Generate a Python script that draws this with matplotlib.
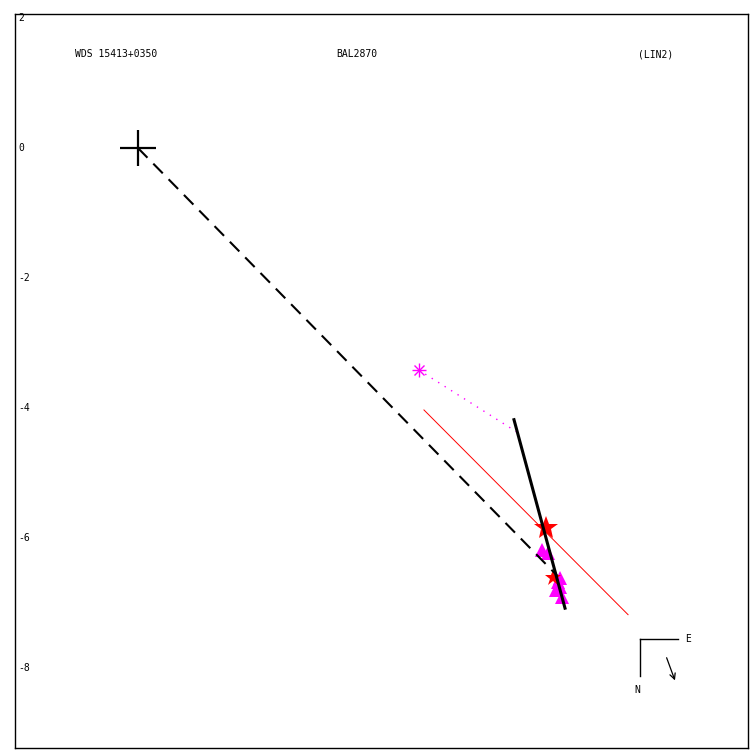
import matplotlib
matplotlib.use("Agg")
import matplotlib.pyplot as plt

# header texts
wds_name = "WDS 15413+0350"
disc_name = "BAL2870"
ref_name = "(LIN2)"

# axis range (arcsec)
x_lim = (-1.892, 9.385)
y_lim = (-9.231, 2.062)
y_ticks = [2, 0, -2, -4, -6, -8]

# dashed line from primary to latest measure
dash_x = [0.0, 6.45]
dash_y = [0.0, -6.58]

# thick black fit line
fit_x = [5.785, 6.57]
fit_y = [-4.18, -7.08]

# thin red line
red_x = [4.40, 7.54]
red_y = [-4.03, -7.18]

# magenta asterisk and its dotted link
ast_x = [4.32]
ast_y = [-3.415]
link_x = [4.32, 5.83]
link_y = [-3.415, -4.37]

# measures
star_x = [6.277, 6.385]
star_y = [-5.846, -6.615]
star_size = [18, 12]
tri_x = [6.215, 6.308, 6.492, 6.462, 6.431, 6.523, 6.50]
tri_y = [-6.185, -6.231, -6.615, -6.677, -6.80, -6.908, -6.75]

fig = plt.figure(figsize=(7.5, 7.5), dpi=100)
ax = fig.add_axes([0.02, 0.0027, 0.9773, 0.9786])
ax.set_xlim(*x_lim)
ax.set_ylim(*y_lim)
ax.set_xticks([])
ax.set_yticks([])
for s in ax.spines.values():
    s.set_linewidth(1)

font = dict(family="DejaVu Sans Mono", fontsize=7)

# y labels sit inside the frame
for t in y_ticks:
    ax.text(0.004, t, str(t), transform=ax.get_yaxis_transform(),
            ha="left", va="center", **font)

# header
ax.text(0.082, 0.9455, wds_name, transform=ax.transAxes, ha="left", va="center", **font)
ax.text(0.438, 0.9455, disc_name, transform=ax.transAxes, ha="left", va="center", **font)
ax.text(0.850, 0.9455, ref_name, transform=ax.transAxes, ha="left", va="center", **font)

# measures
ax.plot(tri_x, tri_y, "^", color="magenta", markersize=10, markeredgewidth=0, zorder=2)
for x, y, s in zip(star_x, star_y, star_size):
    ax.plot(x, y, "*", color="red", markersize=s, markeredgewidth=0, zorder=2)

# lines
ax.plot(red_x, red_y, color="red", linewidth=0.7, zorder=3)
ax.plot(dash_x, dash_y, color="black", linewidth=1.5, dashes=(6.5, 4), zorder=3)
ax.plot(fit_x, fit_y, color="black", linewidth=2.2, zorder=4)
ax.plot(link_x, link_y, color="magenta", linewidth=1, linestyle=(0, (1, 4.5)), zorder=3)
ax.plot(ast_x, ast_y, "+", color="magenta", markersize=10, markeredgewidth=1, zorder=4)
ax.plot(ast_x, ast_y, "x", color="magenta", markersize=7, markeredgewidth=1, zorder=4)

# primary
ax.plot(0, 0, "+", color="black", markersize=26, markeredgewidth=1.6, zorder=5)

# compass (N down, E right)
cx, cy = 0.8527, 0.1485
ax.plot([cx, cx + 0.052], [cy, cy], color="black", linewidth=1, transform=ax.transAxes)
ax.plot([cx, cx], [cy, cy - 0.05], color="black", linewidth=1, transform=ax.transAxes)
ax.text(cx + 0.065, cy, "E", transform=ax.transAxes, ha="center", va="center", **font)
ax.text(cx - 0.004, cy - 0.0695, "N", transform=ax.transAxes, ha="center", va="center", **font)
ax.annotate("", xy=(cx + 0.049, cy - 0.060), xytext=(cx + 0.035, cy - 0.022),
            xycoords="axes fraction",
            arrowprops=dict(arrowstyle="->", color="black", linewidth=0.9))

fig.savefig("out.png", dpi=100)
